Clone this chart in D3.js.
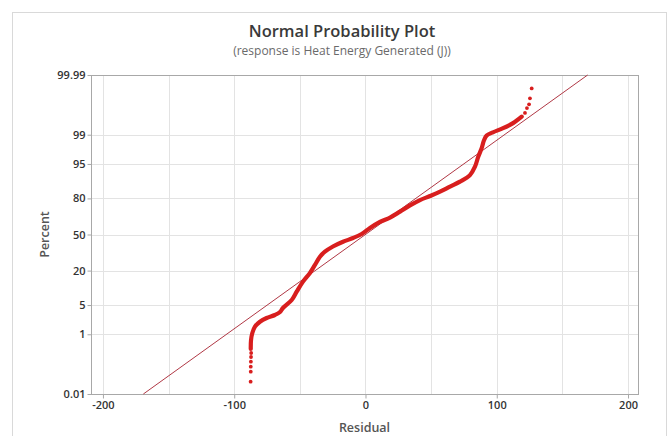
<!DOCTYPE html>
<html>
<head>
<meta charset="utf-8">
<script src="https://cdn.jsdelivr.net/npm/d3@7/dist/d3.min.js"></script>
<style>
  html, body { margin: 0; padding: 0; background: #fff; }
  svg { display: block; font-family: "Open Sans", "Noto Sans", sans-serif; }
</style>
</head>
<body>
<svg id="chart" width="670" height="436"></svg>
<script>
// Sorted residuals along the dense middle of the plot, with their percent positions
const curveResidual = [-87.4, -87.2, -86.2, -84.2, -80.4, -75.3, -69.0, -65.1, -62.9, -56.2,
  -52.4, -47.6, -42.3, -38.5, -34.7, -30.9, -24.8, -17.1, -9.5, -2.9,
  3.4, 11.0, 18.7, 26.3, 33.9, 41.5, 49.1, 56.8, 64.4, 72.0,
  79.6, 83.4, 85.9, 88.5, 90.3, 92.3, 97.1, 104.8, 112.4, 119.0];
const curvePercent = [0.38, 0.69, 1.08, 1.58, 2.10, 2.58, 3.03, 3.54, 4.33, 6.34,
  9.11, 13.6, 18.5, 23.9, 30.2, 34.4, 39.0, 43.3, 46.7, 50.5,
  56.0, 61.5, 65.4, 70.3, 75.1, 78.9, 81.5, 84.1, 86.8, 89.1,
  91.7, 94.3, 96.5, 97.8, 98.6, 98.95, 99.14, 99.34, 99.53, 99.70];

// Individual residuals in the two tails
const tailResidual = [-87.5, -87.4, -87.4, -87.3, -87.2, -87.1,
  121.5, 123.0, 124.6, 125.3, 126.6];
const tailPercent = [0.030, 0.069, 0.103, 0.151, 0.214, 0.286,
  99.77, 99.84, 99.88, 99.925, 99.967];

// Fitted normal line (mean, standard deviation)
const fitMean = 0;
const fitSd = 45.5;

// Axis ticks
const xTicks = [-200, -100, 0, 100, 200];
const xGrid = [-200, -150, -100, -50, 0, 50, 100, 150, 200];
const yTicks = [0.01, 1, 5, 20, 50, 80, 95, 99, 99.99];
const yTickLabels = ["0.01", "1", "5", "20", "50", "80", "95", "99", "99.99"];

// Inverse standard normal CDF (Acklam's rational approximation)
function probit(p) {
  const a = [-3.969683028665376e+01, 2.209460984245205e+02, -2.759285104469687e+02,
             1.383577518672690e+02, -3.066479806614716e+01, 2.506628277459239e+00];
  const b = [-5.447609879822406e+01, 1.615858368580409e+02, -1.556989798598866e+02,
             6.680131188771972e+01, -1.328068155288572e+01];
  const c = [-7.784894002430293e-03, -3.223964580411365e-01, -2.400758277161838e+00,
             -2.549671010360054e+00, 4.374664141464968e+00, 2.938163982698783e+00];
  const d = [7.784695709041462e-03, 3.224671290700398e-01, 2.445134137142996e+00,
             3.754408661907416e+00];
  const pl = 0.02425, ph = 1 - pl;
  let q, r;
  if (p < pl) {
    q = Math.sqrt(-2 * Math.log(p));
    return (((((c[0]*q+c[1])*q+c[2])*q+c[3])*q+c[4])*q+c[5]) /
           ((((d[0]*q+d[1])*q+d[2])*q+d[3])*q+1);
  }
  if (p <= ph) {
    q = p - 0.5; r = q * q;
    return (((((a[0]*r+a[1])*r+a[2])*r+a[3])*r+a[4])*r+a[5])*q /
           (((((b[0]*r+b[1])*r+b[2])*r+b[3])*r+b[4])*r+1);
  }
  q = Math.sqrt(-2 * Math.log(1 - p));
  return -(((((c[0]*q+c[1])*q+c[2])*q+c[3])*q+c[4])*q+c[5]) /
          ((((d[0]*q+d[1])*q+d[2])*q+d[3])*q+1);
}

const svg = d3.select("#chart");
const plot = { left: 91, right: 638, top: 75, bottom: 394 };

const x = d3.scaleLinear().domain([-209.1, 207.6]).range([plot.left, plot.right]);
// Probability axis: linear in the normal quantile
const yz = d3.scaleLinear()
  .domain([probit(0.0001), probit(0.9999)])
  .range([plot.bottom, plot.top]);
const y = p => yz(probit(p / 100));

// Outer frame
svg.append("rect")
  .attr("x", 12.5).attr("y", 12.5)
  .attr("width", 654).attr("height", 440)
  .attr("fill", "none").attr("stroke", "#d9d9d9");

// Titles
svg.append("text")
  .attr("x", 342).attr("y", 37)
  .attr("text-anchor", "middle")
  .attr("font-size", 16.5).attr("font-weight", 600).attr("fill", "#3a3a3a")
  .text("Normal Probability Plot");
svg.append("text")
  .attr("x", 342).attr("y", 55)
  .attr("text-anchor", "middle")
  .attr("font-size", 12).attr("fill", "#6a6a6a")
  .text("(response is Heat Energy Generated (J))");

// Gridlines
const grid = svg.append("g").attr("stroke", "#e3e3e3").attr("stroke-width", 1);
grid.selectAll("line.v").data(xGrid).join("line")
  .attr("class", "v")
  .attr("x1", d => Math.round(x(d)) + 0.5).attr("x2", d => Math.round(x(d)) + 0.5)
  .attr("y1", plot.top).attr("y2", plot.bottom);
grid.selectAll("line.h").data(yTicks.slice(1, -1)).join("line")
  .attr("class", "h")
  .attr("x1", plot.left).attr("x2", plot.right)
  .attr("y1", d => Math.round(y(d)) + 0.5).attr("y2", d => Math.round(y(d)) + 0.5);

// Plot border
svg.append("rect")
  .attr("x", plot.left + 0.5).attr("y", plot.top + 0.5)
  .attr("width", plot.right - plot.left).attr("height", plot.bottom - plot.top)
  .attr("fill", "none").attr("stroke", "#a8a8a8");

// Axes
const xAxis = svg.append("g")
  .attr("transform", `translate(0,${plot.bottom + 0.5})`)
  .call(d3.axisBottom(x).tickValues(xTicks).tickSize(4).tickPadding(3)
    .tickFormat(d => d < 0 ? "-" + Math.abs(d) : String(d)));
const yAxis = svg.append("g")
  .attr("transform", `translate(${plot.left + 0.5},0)`)
  .call(d3.axisLeft(yz).tickValues(yTicks.map(p => probit(p / 100))).tickSize(4).tickPadding(2)
    .tickFormat((d, i) => yTickLabels[i]));
[xAxis, yAxis].forEach(g => {
  g.select(".domain").remove();
  g.selectAll(".tick line").attr("stroke", "#a8a8a8");
  g.selectAll(".tick text")
    .attr("font-family", "'Open Sans', 'Noto Sans', sans-serif")
    .attr("font-size", 11).attr("font-weight", 600).attr("fill", "#333");
});

// Axis titles
svg.append("text")
  .attr("x", (plot.left + plot.right) / 2).attr("y", 432)
  .attr("text-anchor", "middle")
  .attr("font-size", 12.5).attr("font-weight", 600).attr("fill", "#555")
  .text("Residual");
svg.append("text")
  .attr("transform", `translate(49,${(plot.top + plot.bottom) / 2}) rotate(-90)`)
  .attr("text-anchor", "middle")
  .attr("font-size", 12.5).attr("font-weight", 600).attr("fill", "#555")
  .text("Percent");

// Fitted line across the full probability range
const fitEnds = [0.01, 99.99];
svg.append("path")
  .datum(fitEnds)
  .attr("fill", "none").attr("stroke", "#b03845").attr("stroke-width", 1)
  .attr("d", d3.line()
    .x(p => x(fitMean + fitSd * probit(p / 100)))
    .y(p => y(p)));

// Dense run of residuals
const curve = curveResidual.map((r, i) => ({ r, p: curvePercent[i] }));
svg.append("path")
  .datum(curve)
  .attr("fill", "none").attr("stroke", "#d81e1e")
  .attr("stroke-width", 4.2).attr("stroke-linejoin", "round").attr("stroke-linecap", "round")
  .attr("d", d3.line().curve(d3.curveCatmullRom.alpha(0.5)).x(d => x(d.r)).y(d => y(d.p)));

// Separate tail points
const tails = tailResidual.map((r, i) => ({ r, p: tailPercent[i] }));
svg.append("g").selectAll("circle").data(tails).join("circle")
  .attr("cx", d => x(d.r)).attr("cy", d => y(d.p))
  .attr("r", 1.9).attr("fill", "#d81e1e");
</script>
</body>
</html>
